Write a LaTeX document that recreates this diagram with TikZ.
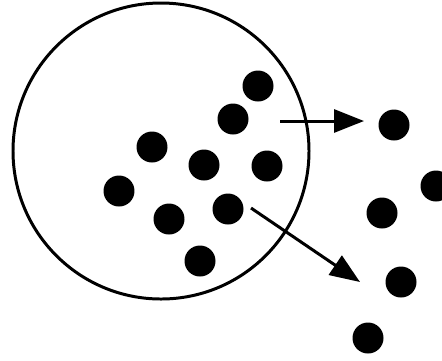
\documentclass[tikz,border=0pt]{standalone}
\usepackage{tikz}
\usetikzlibrary{arrows.meta}
\tikzset{dot/.style={circle,fill=black,inner sep=0pt,minimum size=0.62cm}}
\begin{document}
\begin{tikzpicture}[x=0.02cm,y=-0.02cm,line width=1.7pt,>={Triangle[length=0.6cm,width=0.46cm]}]
\useasboundingbox(0,0)rectangle(442,360);
\draw(161,151)circle(148);
\node[dot](d1)at(258,86){};
\node[dot](d2)at(233,119){};
\node[dot](d3)at(152,147){};
\node[dot](d4)at(204,165){};
\node[dot](d5)at(267,166){};
\node[dot](d6)at(119,191){};
\node[dot](d7)at(169,219){};
\node[dot](d8)at(228,209){};
\node[dot](d9)at(200,261){};
\node[dot](e1)at(394,125){};
\node[dot](e2)at(436,186){};
\node[dot](e3)at(382,213){};
\node[dot](e4)at(401,282){};
\node[dot](e5)at(368,338){};
\coordinate(a1)at(280,121);
\coordinate(b1)at(364,121);
\coordinate(a2)at(251,208);
\coordinate(b2)at(360,282);
\draw[->](a1)--(b1);
\draw[->](a2)--(b2);
\end{tikzpicture}
\end{document}
